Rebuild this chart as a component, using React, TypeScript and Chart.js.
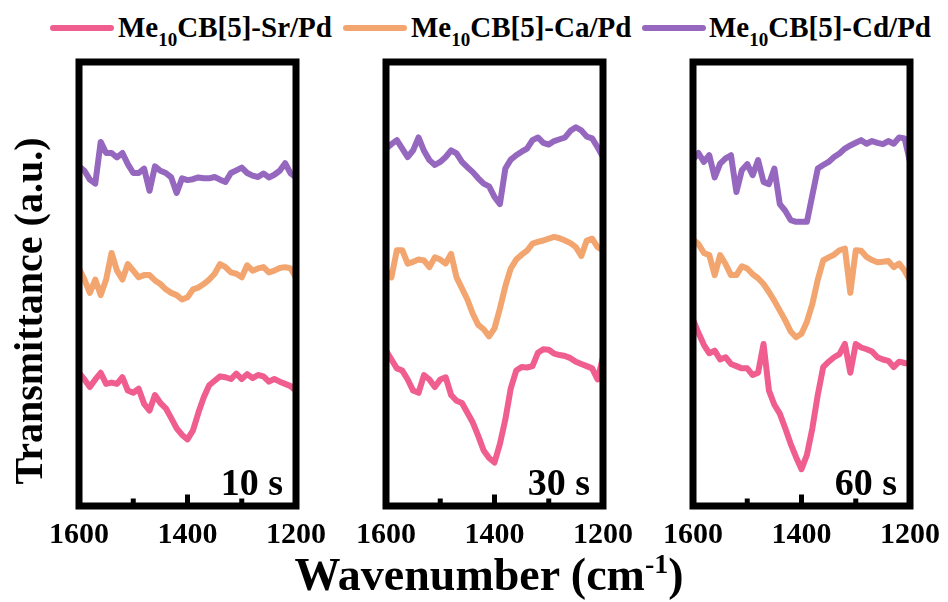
import React, { useEffect, useRef } from "react";
import { Chart, registerables } from "chart.js";

Chart.register(...registerables);

// ---------- data ----------
const wavenumbers = [
  1600, 1590, 1580, 1570, 1560, 1550, 1540, 1530, 1520, 1510,
  1500, 1490, 1480, 1470, 1460, 1450, 1440, 1430, 1420, 1410,
  1400, 1390, 1380, 1370, 1360, 1350, 1340, 1330, 1320, 1310,
  1300, 1290, 1280, 1270, 1260, 1250, 1240, 1230, 1220, 1210, 1200,
];

const seriesLabels = ["Me₁₀CB[5]-Sr/Pd", "Me₁₀CB[5]-Ca/Pd", "Me₁₀CB[5]-Cd/Pd"];
const seriesMetals = ["Sr", "Ca", "Cd"];
const seriesColors = ["#EF5E8E", "#F3A570", "#9567BE"];

// 10 s
const sr10 = [30.0, 28.5, 26.8, 28.5, 30.0, 27.5, 27.8, 27.5, 29.0, 26.0, 25.5, 26.4, 23.0, 21.5, 25.0, 23.2, 22.0, 19.8, 17.5, 16.0, 15.0, 17.0, 21.0, 24.5, 27.2, 28.2, 29.2, 29.0, 28.6, 29.8, 28.6, 29.7, 28.8, 29.5, 29.2, 28.0, 28.6, 28.0, 27.5, 27.0, 26.0];
const ca10 = [53.5, 51.0, 48.0, 51.0, 47.5, 51.0, 57.0, 53.0, 51.0, 54.5, 53.0, 51.5, 52.0, 52.0, 50.8, 50.0, 48.8, 48.0, 47.5, 46.5, 47.0, 48.8, 49.2, 50.0, 51.0, 52.3, 54.5, 53.8, 52.6, 52.3, 51.5, 54.2, 53.0, 53.5, 53.8, 52.6, 53.0, 53.6, 53.8, 53.5, 51.5];
const cd10 = [76.5, 75.5, 73.5, 72.6, 82.0, 79.5, 79.5, 78.5, 79.5, 77.0, 75.0, 75.0, 76.0, 71.0, 76.5, 75.5, 75.0, 74.0, 70.5, 73.8, 73.4, 73.6, 74.0, 73.8, 73.8, 74.1, 73.5, 73.0, 75.0, 75.6, 76.2, 75.0, 74.4, 74.1, 74.9, 74.0, 74.6, 75.5, 77.2, 74.9, 74.0];

// 30 s
const sr30 = [35.0, 33.0, 31.0, 30.5, 28.5, 26.0, 25.5, 29.5, 28.5, 26.8, 28.5, 29.0, 25.0, 23.7, 23.2, 21.0, 18.8, 15.8, 12.5, 10.8, 9.8, 14.0, 19.5, 26.5, 30.5, 31.3, 31.2, 31.5, 34.5, 35.3, 35.2, 34.3, 34.0, 33.8, 33.3, 32.5, 32.0, 31.5, 31.0, 28.5, 33.5];
const ca30 = [53.0, 51.5, 57.6, 57.6, 54.6, 55.0, 55.5, 55.3, 53.8, 56.0, 55.5, 54.6, 56.8, 51.5, 49.0, 46.5, 43.3, 40.8, 39.8, 38.2, 40.0, 44.5, 49.5, 53.5, 55.5, 56.6, 57.5, 59.1, 59.5, 59.8, 60.2, 60.6, 60.3, 59.8, 59.2, 58.3, 56.3, 59.8, 60.2, 58.3, 57.6];
const cd30 = [80.5, 81.5, 82.4, 80.5, 78.6, 80.1, 83.0, 80.0, 77.9, 76.8, 77.5, 78.6, 80.1, 79.4, 77.5, 76.3, 75.2, 73.8, 72.6, 72.0, 69.6, 68.0, 76.0, 78.0, 79.0, 79.8, 80.5, 82.4, 83.0, 81.8, 81.4, 82.2, 82.6, 83.0, 84.5, 85.3, 84.6, 83.2, 82.8, 80.8, 78.6];

// 60 s
const sr60 = [42.0, 39.0, 36.3, 34.4, 35.0, 33.0, 33.5, 32.0, 31.5, 31.0, 31.0, 29.5, 30.0, 36.5, 26.0, 22.8, 20.8, 17.5, 14.0, 11.0, 8.3, 11.5, 17.5, 25.0, 31.3, 32.5, 33.5, 34.2, 36.5, 30.0, 36.5, 35.7, 35.3, 34.8, 33.5, 33.0, 32.7, 31.3, 32.5, 32.2, 32.0];
const ca60 = [60.0, 59.0, 57.0, 56.5, 52.0, 56.5, 54.5, 52.0, 52.0, 54.0, 53.5, 52.2, 51.3, 50.0, 48.2, 46.2, 44.0, 41.8, 39.3, 38.0, 38.8, 41.5, 45.5, 51.0, 55.3, 56.0, 56.6, 57.6, 58.0, 48.0, 57.6, 57.5, 56.1, 55.4, 54.9, 55.0, 55.2, 53.8, 54.6, 53.0, 50.8];
const cd60 = [78.0, 79.5, 77.5, 79.0, 74.0, 77.1, 78.3, 79.0, 70.7, 75.6, 77.0, 74.5, 77.9, 73.0, 72.5, 76.0, 68.0, 66.5, 64.4, 64.0, 64.0, 64.0, 70.0, 76.0, 76.8, 77.5, 78.6, 79.4, 80.5, 81.2, 81.8, 82.4, 81.6, 82.2, 81.8, 81.5, 82.2, 81.6, 83.0, 82.8, 77.5];

const panelTimes = ["10 s", "30 s", "60 s"];
const panelSeries = [
  [sr10, ca10, cd10],
  [sr30, ca30, cd30],
  [sr60, ca60, cd60],
];

const xMin = 1200;
const xMax = 1600;
const xTickLabels = [1600, 1400, 1200];
const innerTicks = [1500, 1400, 1300];
const majorInnerTick = 1400;

// ---------- layout ----------
const SERIF = "'Liberation Serif', 'Times New Roman', Times, serif";
const PANEL_LEFTS = [79, 386, 693];
const PANEL_W = 217;
const PAD_X = 44;
const CANVAS_TOP = 30;
const CANVAS_H = 540;
const PAD_TOP = 32;
const AXIS_H = 64;
const FRAME_W = 7;

const framePlugin = {
  id: "panelFrame",
  afterDatasetsDraw(chart: any) {
    const { ctx, chartArea: a } = chart;
    const x = chart.scales.x;
    ctx.save();
    ctx.strokeStyle = "#000";
    ctx.lineWidth = FRAME_W;
    ctx.lineJoin = "miter";
    ctx.strokeRect(a.left, a.top, a.right - a.left, a.bottom - a.top);
    ctx.lineCap = "butt";
    ctx.lineWidth = 5;
    for (const v of innerTicks) {
      const px = x.getPixelForValue(v);
      const len = v === majorInnerTick ? 8 : 4;
      ctx.beginPath();
      ctx.moveTo(px, a.bottom);
      ctx.lineTo(px, a.bottom - FRAME_W / 2 - len);
      ctx.stroke();
    }
    ctx.restore();
  },
};

function Panel({ index }: { index: number }) {
  const ref = useRef<HTMLCanvasElement | null>(null);
  useEffect(() => {
    if (!ref.current) return;
    const series = panelSeries[index];
    const chart = new Chart(ref.current, {
      type: "line",
      data: {
        datasets: series.map((vals, i) => ({
          label: seriesLabels[i],
          data: wavenumbers.map((w, j) => ({ x: w, y: vals[j] })),
          borderColor: seriesColors[i],
          backgroundColor: seriesColors[i],
          borderWidth: 6,
          pointRadius: 0,
          tension: 0,
          borderJoinStyle: "round",
          borderCapStyle: "round",
          fill: false,
        })),
      },
      options: {
        responsive: false,
        animation: false,
        devicePixelRatio: 1,
        events: [],
        layout: { padding: { left: PAD_X, right: PAD_X, top: PAD_TOP, bottom: 0 } },
        plugins: {
          legend: { display: false },
          tooltip: { enabled: false },
          title: { display: false },
        },
        scales: {
          x: {
            type: "linear",
            min: xMin,
            max: xMax,
            reverse: true,
            afterBuildTicks: (s: any) => {
              s.ticks = xTickLabels.map((v) => ({ value: v }));
            },
            afterFit: (s: any) => {
              s.height = AXIS_H;
            },
            ticks: {
              color: "#000",
              font: { family: SERIF, size: 30, weight: "bold" },
              padding: 11,
              maxRotation: 0,
              minRotation: 0,
              autoSkip: false,
              callback: (v: any) => String(v),
            },
            grid: { display: false, drawTicks: false },
            border: { display: false },
          },
          y: { min: 0, max: 100, display: false },
        },
      } as any,
      plugins: [framePlugin],
    });
    return () => chart.destroy();
  }, [index]);

  const left = PANEL_LEFTS[index] - PAD_X;
  return (
    <canvas
      ref={ref}
      width={PANEL_W + 2 * PAD_X}
      height={CANVAS_H}
      style={{
        position: "absolute",
        left,
        top: CANVAS_TOP,
        width: PANEL_W + 2 * PAD_X,
        height: CANVAS_H,
      }}
    />
  );
}

const legendSwatchLefts = [50, 343, 642];
const legendTextLefts = [118, 411, 709];

export default function App() {
  return (
    <div
      style={{
        position: "absolute",
        left: 0,
        top: 0,
        width: 948,
        height: 602,
        overflow: "hidden",
        background: "#fff",
        fontFamily: SERIF,
        color: "#000",
      }}
    >
      {/* legend */}
      {seriesMetals.map((m, i) => (
        <React.Fragment key={m}>
          <div
            style={{
              position: "absolute",
              left: legendSwatchLefts[i],
              top: 25,
              width: 64,
              height: 6,
              borderRadius: 3,
              background: seriesColors[i],
            }}
          />
          <div
            style={{
              position: "absolute",
              left: legendTextLefts[i],
              top: 13,
              fontSize: 29,
              lineHeight: "29px",
              fontWeight: "bold",
              whiteSpace: "nowrap",
            }}
          >
            Me
            <span style={{ fontSize: 19, position: "relative", top: 9, lineHeight: 0 }}>10</span>
            CB[5]-{m}/Pd
          </div>
        </React.Fragment>
      ))}

      {/* panels */}
      {[0, 1, 2].map((i) => (
        <Panel key={i} index={i} />
      ))}

      {/* panel time labels */}
      {panelTimes.map((t, i) => (
        <div
          key={t}
          style={{
            position: "absolute",
            left: PANEL_LEFTS[i],
            width: PANEL_W - 13,
            top: 463,
            textAlign: "right",
            fontSize: 38,
            lineHeight: "38px",
            fontWeight: "bold",
            whiteSpace: "nowrap",
          }}
        >
          {t}
        </div>
      ))}

      {/* y axis title */}
      <div
        style={{
          position: "absolute",
          left: 29 - 200,
          top: 311 - 20,
          width: 400,
          height: 40,
          lineHeight: "40px",
          fontSize: 40,
          fontWeight: "bold",
          textAlign: "center",
          whiteSpace: "nowrap",
          transform: "rotate(-90deg)",
        }}
      >
        Transmittance (a.u.)
      </div>

      {/* x axis title */}
      <div
        style={{
          position: "absolute",
          left: 489 - 300,
          top: 552,
          width: 600,
          fontSize: 46,
          lineHeight: "46px",
          fontWeight: "bold",
          textAlign: "center",
          whiteSpace: "nowrap",
        }}
      >
        Wavenumber (cm
        <span style={{ fontSize: 28, position: "relative", top: -17, lineHeight: 0 }}>-1</span>)
      </div>
    </div>
  );
}
